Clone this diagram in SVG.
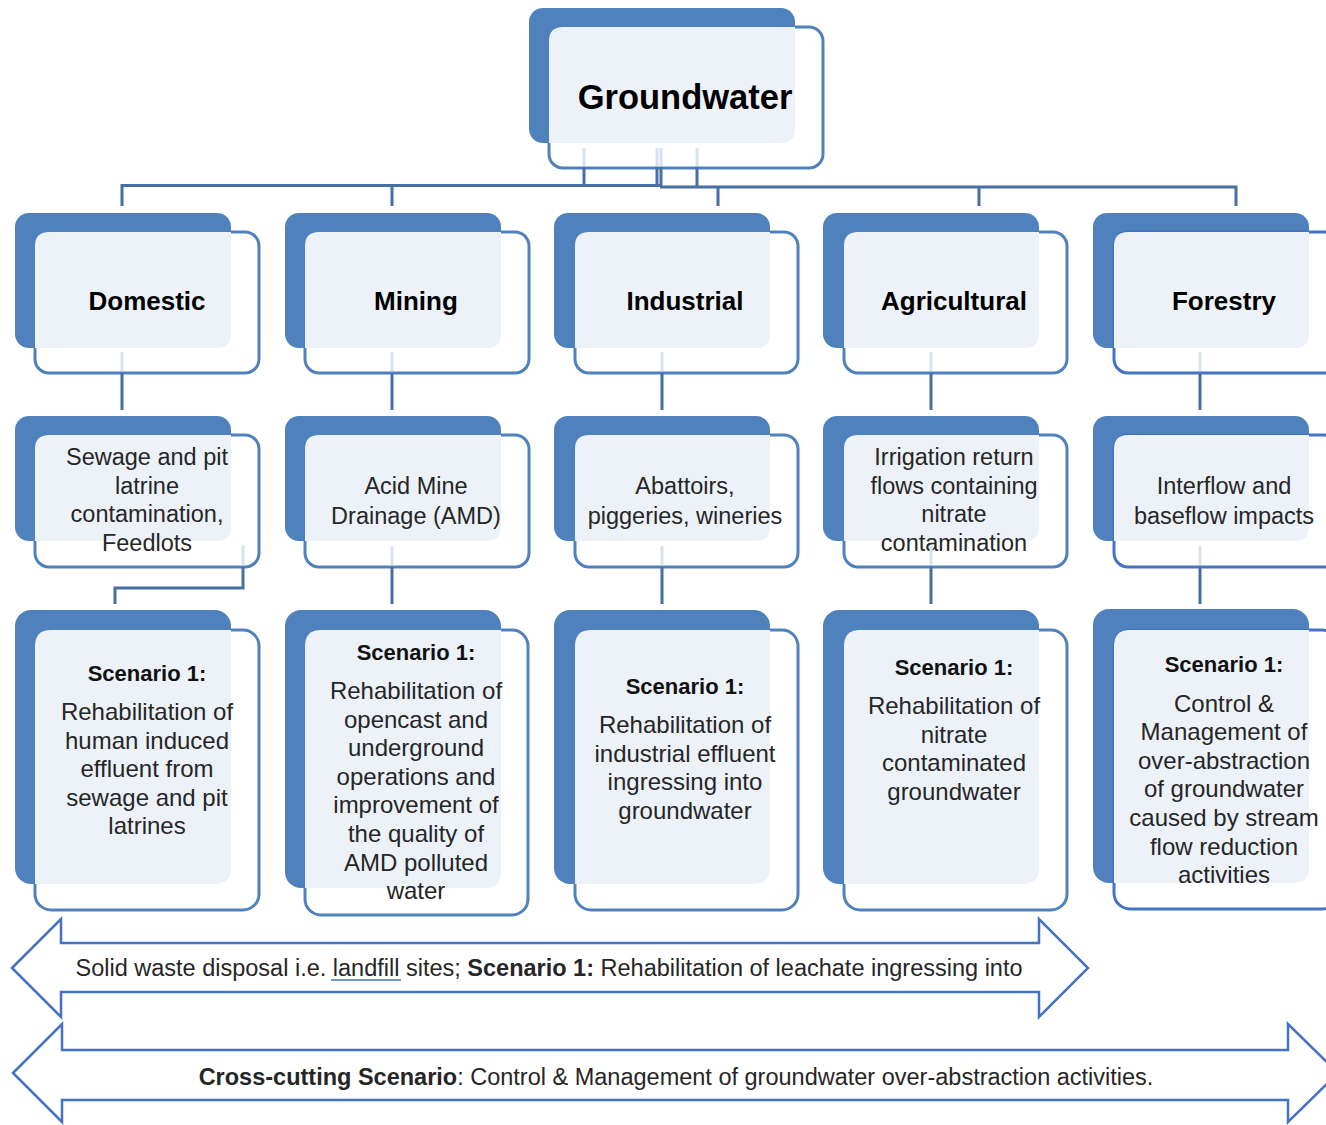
<svg xmlns="http://www.w3.org/2000/svg" width="1326" height="1125" viewBox="0 0 1326 1125">
<style>
.back{fill:#4f81bd}
.front{fill:#ffffff;stroke:#4f81bd;stroke-width:3}
.front2{fill:#ffffff;stroke:#4472c4;stroke-width:3}
.light{fill:#edf2f9}
.con{fill:none;stroke:#476fa3;stroke-width:3}
.faint{fill:none;stroke:#d9e3ef;stroke-width:3}
.arrow{fill:#ffffff;stroke:#4472c4;stroke-width:2.5}
text{font-family:"Liberation Sans",Arial,sans-serif;text-anchor:middle;fill:#262626}
.t1{font-size:26px;font-weight:bold;fill:#000}
.t0{font-size:34.5px;font-weight:bold;fill:#000}
.t2{font-size:23.5px}
.t3{font-size:24px}
.sc{font-size:22px;font-weight:bold;fill:#111}
.ta{font-size:23.5px}
b,.b{font-weight:bold}
</style>

<g id="groundwater">
<rect class="back" x="529" y="8" width="266" height="135" rx="14"/>
<rect class="front" x="549" y="27" width="274" height="141" rx="14"/>
<path class="light" d="M563,27 H795 V129 Q795,143 781,143 H549 V41 Q549,27 563,27 Z"/>
<text class="t0" x="685" y="109">Groundwater</text>
</g>

<!-- Level 1 -->
<g id="domestic">
<rect class="back" x="15" y="213" width="216" height="135" rx="14"/>
<rect class="front" x="35" y="232" width="224" height="141" rx="14"/>
<path class="light" d="M49,232 H231 V334 Q231,348 217,348 H35 V246 Q35,232 49,232 Z"/>
<text class="t1" x="147" y="310">Domestic</text>
</g>
<g id="mining">
<rect class="back" x="285" y="213" width="216" height="135" rx="14"/>
<rect class="front" x="305" y="232" width="224" height="141" rx="14"/>
<path class="light" d="M319,232 H501 V334 Q501,348 487,348 H305 V246 Q305,232 319,232 Z"/>
<text class="t1" x="416" y="310">Mining</text>
</g>
<g id="industrial">
<rect class="back" x="554" y="213" width="216" height="135" rx="14"/>
<rect class="front" x="575" y="232" width="223" height="141" rx="14"/>
<path class="light" d="M589,232 H770 V334 Q770,348 756,348 H575 V246 Q575,232 589,232 Z"/>
<text class="t1" x="685" y="310">Industrial</text>
</g>
<g id="agricultural">
<rect class="back" x="823" y="213" width="216" height="135" rx="14"/>
<rect class="front" x="844" y="232" width="223" height="141" rx="14"/>
<path class="light" d="M858,232 H1039 V334 Q1039,348 1025,348 H844 V246 Q844,232 858,232 Z"/>
<text class="t1" x="954" y="310">Agricultural</text>
</g>
<g id="forestry">
<rect class="back" x="1093" y="213" width="216" height="135" rx="14"/>
<rect class="front2" x="1114" y="232" width="224" height="141" rx="14"/>
<path class="light" d="M1128,232 H1309 V334 Q1309,348 1295,348 H1114 V246 Q1114,232 1128,232 Z"/>
<text class="t1" x="1224" y="310">Forestry</text>
</g>

<!-- Level 2 -->
<g id="domestic-source">
<rect class="back" x="15" y="416" width="216" height="125" rx="14"/>
<rect class="front" x="35" y="435" width="224" height="132" rx="14"/>
<path class="light" d="M49,435 H231 V527 Q231,541 217,541 H35 V449 Q35,435 49,435 Z"/>
<text class="t2"><tspan x="147" y="465">Sewage and pit</tspan><tspan x="147" y="494">latrine</tspan><tspan x="147" y="522">contamination,</tspan><tspan x="147" y="551">Feedlots</tspan></text>
</g>
<g id="mining-source">
<rect class="back" x="285" y="416" width="216" height="125" rx="14"/>
<rect class="front" x="305" y="435" width="224" height="132" rx="14"/>
<path class="light" d="M319,435 H501 V527 Q501,541 487,541 H305 V449 Q305,435 319,435 Z"/>
<text class="t2"><tspan x="416" y="494">Acid Mine</tspan><tspan x="416" y="524">Drainage (AMD)</tspan></text>
</g>
<g id="industrial-source">
<rect class="back" x="554" y="416" width="216" height="125" rx="14"/>
<rect class="front" x="575" y="435" width="223" height="132" rx="14"/>
<path class="light" d="M589,435 H770 V527 Q770,541 756,541 H575 V449 Q575,435 589,435 Z"/>
<text class="t2"><tspan x="685" y="494">Abattoirs,</tspan><tspan x="685" y="524">piggeries, wineries</tspan></text>
</g>
<g id="agricultural-source">
<rect class="back" x="823" y="416" width="216" height="125" rx="14"/>
<rect class="front" x="844" y="435" width="223" height="132" rx="14"/>
<path class="light" d="M858,435 H1039 V527 Q1039,541 1025,541 H844 V449 Q844,435 858,435 Z"/>
<text class="t2"><tspan x="954" y="465">Irrigation return</tspan><tspan x="954" y="494">flows containing</tspan><tspan x="954" y="522">nitrate</tspan><tspan x="954" y="551">contamination</tspan></text>
</g>
<g id="forestry-source">
<rect class="back" x="1093" y="416" width="216" height="125" rx="14"/>
<rect class="front2" x="1114" y="435" width="224" height="132" rx="14"/>
<path class="light" d="M1128,435 H1309 V527 Q1309,541 1295,541 H1114 V449 Q1114,435 1128,435 Z"/>
<text class="t2"><tspan x="1224" y="494">Interflow and</tspan><tspan x="1224" y="524">baseflow impacts</tspan></text>
</g>

<!-- Level 3 -->
<g id="domestic-scenario">
<rect class="back" x="15" y="610" width="216" height="274" rx="16"/>
<rect class="front" x="35" y="630" width="224" height="280" rx="16"/>
<path class="light" d="M51,630 H231 V868 Q231,884 215,884 H35 V646 Q35,630 51,630 Z"/>
<text class="sc" x="147" y="681">Scenario 1:</text>
<text class="t3"><tspan x="147" y="720">Rehabilitation of</tspan><tspan x="147" y="749">human induced</tspan><tspan x="147" y="777">effluent from</tspan><tspan x="147" y="806">sewage and pit</tspan><tspan x="147" y="834">latrines</tspan></text>
</g>
<g id="mining-scenario">
<rect class="back" x="285" y="610" width="216" height="278" rx="16"/>
<rect class="front" x="305" y="630" width="223" height="285" rx="16"/>
<path class="light" d="M321,630 H501 V872 Q501,888 485,888 H305 V646 Q305,630 321,630 Z"/>
<text class="sc" x="416" y="660">Scenario 1:</text>
<text class="t3"><tspan x="416" y="699">Rehabilitation of</tspan><tspan x="416" y="728">opencast and</tspan><tspan x="416" y="756">underground</tspan><tspan x="416" y="785">operations and</tspan><tspan x="416" y="813">improvement of</tspan><tspan x="416" y="842">the quality of</tspan><tspan x="416" y="871">AMD polluted</tspan><tspan x="416" y="899">water</tspan></text>
</g>
<g id="industrial-scenario">
<rect class="back" x="554" y="610" width="216" height="274" rx="16"/>
<rect class="front" x="575" y="630" width="223" height="280" rx="16"/>
<path class="light" d="M591,630 H770 V868 Q770,884 754,884 H575 V646 Q575,630 591,630 Z"/>
<text class="sc" x="685" y="694">Scenario 1:</text>
<text class="t3"><tspan x="685" y="733">Rehabilitation of</tspan><tspan x="685" y="762">industrial effluent</tspan><tspan x="685" y="790">ingressing into</tspan><tspan x="685" y="819">groundwater</tspan></text>
</g>
<g id="agricultural-scenario">
<rect class="back" x="823" y="610" width="216" height="274" rx="16"/>
<rect class="front" x="844" y="630" width="223" height="280" rx="16"/>
<path class="light" d="M860,630 H1039 V868 Q1039,884 1023,884 H844 V646 Q844,630 860,630 Z"/>
<text class="sc" x="954" y="675">Scenario 1:</text>
<text class="t3"><tspan x="954" y="714">Rehabilitation of</tspan><tspan x="954" y="743">nitrate</tspan><tspan x="954" y="771">contaminated</tspan><tspan x="954" y="800">groundwater</tspan></text>
</g>
<g id="forestry-scenario">
<rect class="back" x="1093" y="609" width="216" height="274" rx="16"/>
<rect class="front2" x="1114" y="630" width="224" height="279" rx="16"/>
<path class="light" d="M1130,630 H1309 V867 Q1309,883 1293,883 H1114 V646 Q1114,630 1130,630 Z"/>
<text class="sc" x="1224" y="672">Scenario 1:</text>
<text class="t3"><tspan x="1224" y="712">Control &amp;</tspan><tspan x="1224" y="740">Management of</tspan><tspan x="1224" y="769">over-abstraction</tspan><tspan x="1224" y="797">of groundwater</tspan><tspan x="1224" y="826">caused by stream</tspan><tspan x="1224" y="855">flow reduction</tspan><tspan x="1224" y="883">activities</tspan></text>
</g>

<!-- Connectors -->
<g id="connectors">
<path class="faint" d="M584,148 V166 M657,148 V166 M661,148 V166 M697,148 V166"/>
<path class="con" d="M584,167 V186 M657,167 V186 M661,167 V187 M697,167 V187"/>
<path class="con" d="M122,206 V185.5 H660 M660,187 H1236 V206 M392,185.5 V206 M718,187 V206 M979,187 V206"/>
<path class="faint" d="M122,352 V371 M392,352 V371 M662,352 V371 M931,352 V371 M1200,352 V371"/>
<path class="con" d="M122,373 V410 M392,373 V410 M662,373 V410 M931,373 V410 M1200,373 V410"/>
<path class="faint" d="M243,545 V565 M392,546 V565 M662,546 V565 M931,546 V565 M1200,546 V565"/>
<path class="con" d="M243,567 V588 H115 V604 M392,567 V604 M662,567 V604 M931,567 V604 M1200,567 V604"/>
</g>

<g id="landfill-arrow">
<path class="arrow" d="M12,968 L61,919 L61,943 L1039,943 L1039,919 L1088,968 L1039,1017 L1039,992 L61,992 L61,1017 Z"/>
<text class="ta" x="549" y="976">Solid waste disposal i.e. landfill sites; <tspan class="b">Scenario 1:</tspan> Rehabilitation of leachate ingressing into</text>
<line x1="331" y1="980" x2="401" y2="980" stroke="#4472c4" stroke-width="1.5"/>
</g>

<g id="crosscutting-arrow">
<path class="arrow" d="M13,1073 L62,1024 L62,1050 L1288,1050 L1288,1024 L1338,1073 L1288,1122 L1288,1100 L62,1100 L62,1122 Z"/>
<text class="ta" x="676" y="1085"><tspan class="b">Cross-cutting Scenario</tspan>: Control &amp; Management of groundwater over-abstraction activities.</text>
</g>
</svg>
